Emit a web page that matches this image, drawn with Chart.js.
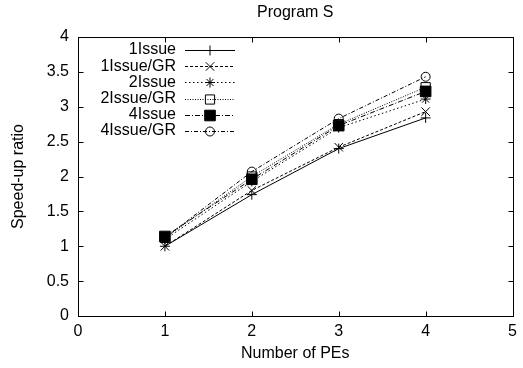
<!DOCTYPE html>
<html>
<head>
<meta charset="utf-8">
<script src="https://cdn.jsdelivr.net/npm/chart.js@4.4.1/dist/chart.umd.min.js"></script>
<style>
  body { margin: 0; background: #fff; }
  canvas { display: block; }
</style>
</head>
<body>
<canvas id="chart" width="523" height="368"></canvas>
<script>
// Program S - speed-up ratio vs number of PEs
const pes = [1, 2, 3, 4];
const issue1   = [1.00, 1.74, 2.40, 2.84];
const issue1GR = [1.00, 1.80, 2.42, 2.93];
const issue2   = [1.10, 1.93, 2.70, 3.11];
const issue2GR = [1.12, 2.00, 2.75, 3.28];
const issue4   = [1.14, 1.96, 2.73, 3.22];
const issue4GR = [1.12, 2.07, 2.83, 3.43];

const FONT = '"Liberation Sans", Arial, Helvetica, sans-serif';

function pts(vals) {
    return pes.map((x, i) => ({ x: x, y: vals[i] }));
}

// gnuplot-like series styles
const series = [
    { label: '1Issue',    data: issue1,   dash: [],           style: 'cross',    r: 5,   fill: 'rgba(0,0,0,0)' },
    { label: '1Issue/GR', data: issue1GR, dash: [3, 2],       style: 'crossRot', r: 6,   fill: 'rgba(0,0,0,0)' },
    { label: '2Issue',    data: issue2,   dash: [1.5, 2.5],   style: 'star',     r: 5,   fill: 'rgba(0,0,0,0)' },
    { label: '2Issue/GR', data: issue2GR, dash: [1, 1.5],     style: 'rect',     r: 6.5, fill: 'rgba(0,0,0,0)' },
    { label: '4Issue',    data: issue4,   dash: [5, 2, 1, 2], style: 'rect',     r: 7.5, fill: '#000' },
    { label: '4Issue/GR', data: issue4GR, dash: [4, 2, 1, 2], style: 'circle',   r: 4.5, fill: 'rgba(0,0,0,0)' }
];

const datasets = series.map((s, i) => ({
    label: s.label,
    data: pts(s.data),
    borderColor: '#000',
    borderWidth: 1,
    borderDash: s.dash,
    pointStyle: s.style,
    pointRadius: s.r,
    pointBorderWidth: 1,
    pointBorderColor: '#000',
    pointBackgroundColor: s.fill,
    fill: false,
    tension: 0,
    order: series.length - 1 - i
}));

// frame, inward ticks, title and key drawn like gnuplot
const gnuplotDecor = {
    id: 'gnuplotDecor',
    afterDatasetsDraw(chart) {
        const ctx = chart.ctx;
        const a = chart.chartArea;
        const xs = chart.scales.x, ys = chart.scales.y;
        const L = Math.round(a.left) + 0.5, R = Math.round(a.right) + 0.5;
        const T = Math.round(a.top) + 0.5, B = Math.round(a.bottom) + 0.5;
        ctx.save();
        ctx.strokeStyle = '#000';
        ctx.lineWidth = 1;
        ctx.setLineDash([]);
        ctx.strokeRect(L, T, R - L, B - T);

        // inward tick marks on all four sides
        const tl = 5;
        ctx.beginPath();
        xs.ticks.forEach(t => {
            const px = Math.round(xs.getPixelForValue(t.value)) + 0.5;
            ctx.moveTo(px, B); ctx.lineTo(px, B - tl);
            ctx.moveTo(px, T); ctx.lineTo(px, T + tl);
        });
        ys.ticks.forEach(t => {
            const py = Math.round(ys.getPixelForValue(t.value)) + 0.5;
            ctx.moveTo(L, py); ctx.lineTo(L + tl, py);
            ctx.moveTo(R, py); ctx.lineTo(R - tl, py);
        });
        ctx.stroke();

        // title
        ctx.fillStyle = '#000';
        ctx.font = '16px ' + FONT;
        ctx.textAlign = 'center';
        ctx.textBaseline = 'middle';
        ctx.fillText('Program S', (a.left + a.right) / 2, 13);

        // key
        const textRight = a.left + 98;
        const lineL = a.left + 107, lineR = a.left + 157;
        chart.data.datasets.forEach((ds, i) => {
            const y = a.top + 13 + i * 16.2;
            const yl = Math.round(y) + 0.5;
            ctx.textAlign = 'right';
            ctx.fillStyle = '#000';
            ctx.fillText(ds.label, textRight, y);
            ctx.setLineDash(ds.borderDash);
            ctx.beginPath();
            ctx.moveTo(lineL, yl);
            ctx.lineTo(lineR, yl);
            ctx.stroke();
            ctx.setLineDash([]);
            ctx.fillStyle = ds.pointBackgroundColor;
            Chart.helpers.drawPoint(ctx, {
                pointStyle: ds.pointStyle,
                radius: ds.pointRadius,
                rotation: 0,
                borderWidth: 1
            }, (lineL + lineR) / 2, yl);
        });
        ctx.restore();
    }
};

new Chart(document.getElementById('chart').getContext('2d'), {
    type: 'line',
    data: { datasets: datasets },
    options: {
        responsive: false,
        animation: false,
        layout: { padding: { top: 37, right: 10, left: 0, bottom: 0 } },
        plugins: {
            legend: { display: false },
            title: { display: false },
            tooltip: { enabled: false }
        },
        scales: {
            x: {
                type: 'linear',
                min: 0,
                max: 5,
                ticks: { stepSize: 1, color: '#000', padding: 6, font: { family: FONT, size: 16 } },
                grid: { display: false, drawTicks: false },
                border: { display: true, color: '#000', width: 1 },
                title: { display: true, text: 'Number of PEs', color: '#000', padding: { top: 0, bottom: 5 }, font: { family: FONT, size: 16 } },
                afterFit(s) { s.height = 52; }
            },
            y: {
                type: 'linear',
                min: 0,
                max: 4,
                ticks: {
                    stepSize: 0.5, color: '#000', padding: 9, font: { family: FONT, size: 16 },
                    callback: v => String(Number(v))
                },
                grid: { display: false, drawTicks: false },
                border: { display: true, color: '#000', width: 1 },
                title: { display: true, text: 'Speed-up ratio', color: '#000', padding: { top: 9, bottom: 0 }, font: { family: FONT, size: 16 } },
                afterFit(s) { s.width = 78; }
            }
        }
    },
    plugins: [gnuplotDecor]
});
</script>
</body>
</html>
